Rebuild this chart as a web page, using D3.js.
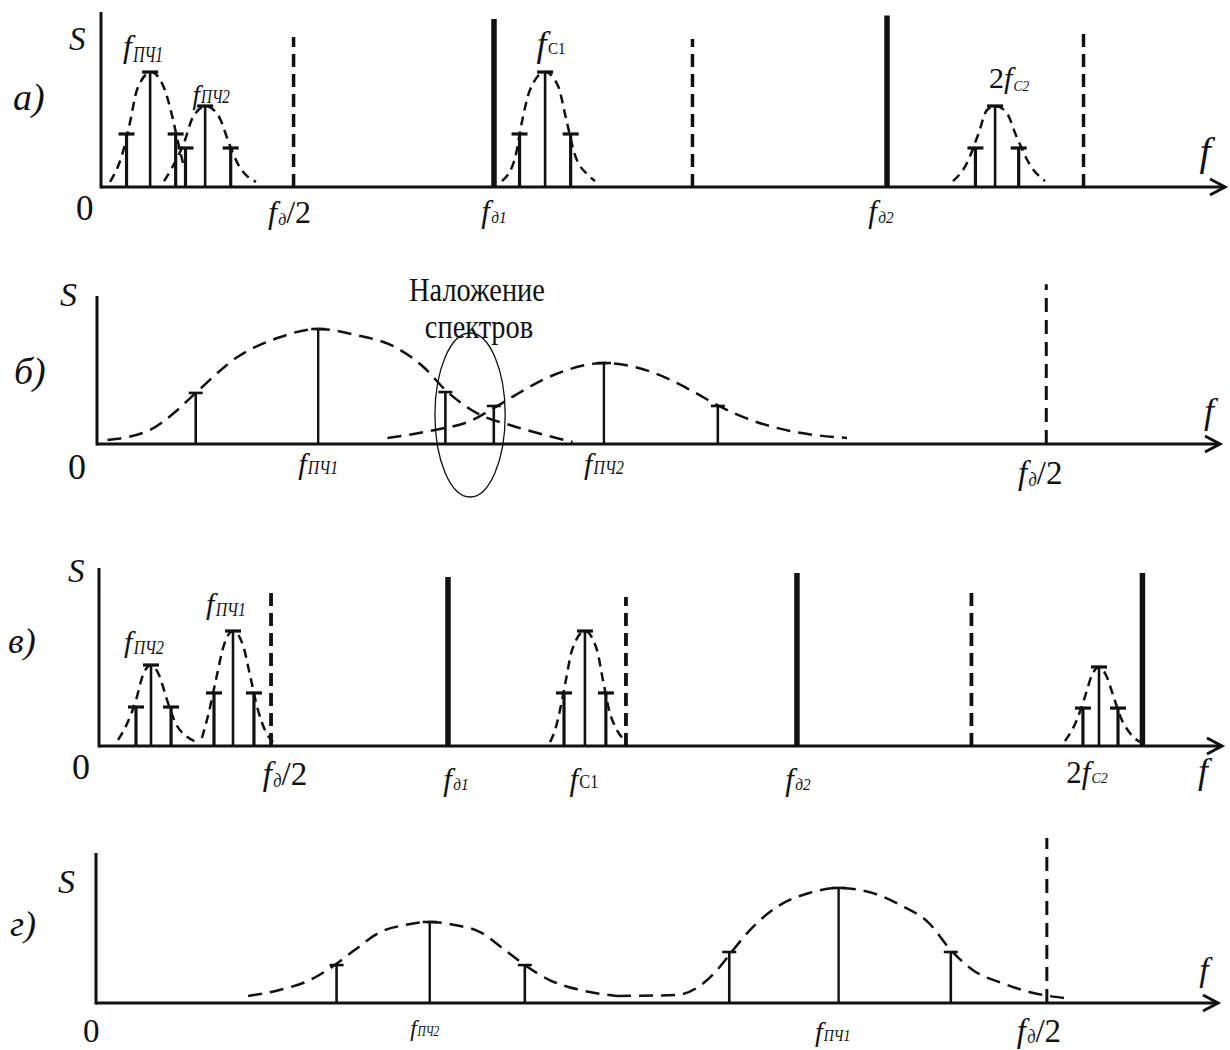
<!DOCTYPE html>
<html>
<head>
<meta charset="utf-8">
<script src="https://cdn.jsdelivr.net/npm/d3@7"></script>
<style>
  body { margin: 0; background: #fff; }
  svg { display: block; }
</style>
</head>
<body>
<svg id="chart" width="1230" height="1050"></svg>
<script>
// Frequencies are given in units of half the sampling frequency (f_д/2 = 1),
// amplitudes as a fraction of the height of the S axis.

const panelLetters = ["а)", "б)", "в)", "г)"];
// right end of each frequency axis (arrow tip), same units
const freqSpan = [5.72, 1.183, 6.436, 1.18];

// ---------- а) ----------
const aGroups = [
  { name: "ПЧ1", f: [0.13, 0.25, 0.38], s: [0.303, 0.657, 0.303] },
  { name: "ПЧ2", f: [0.43, 0.53, 0.66], s: [0.223, 0.463, 0.223] },
  { name: "C1",  f: [2.13, 2.26, 2.39], s: [0.303, 0.657, 0.303] },
  { name: "2C2", f: [4.45, 4.55, 4.67], s: [0.223, 0.463, 0.223] }
];
const aSampling = [[2.0, 0.96], [4.0, 0.98]];
const aHalf = [[0.98, 0.857], [3.01, 0.846], [5.0, 0.874]];
const aEnvelopes = [
  [[0.046,0.029],[0.107,0.183],[0.148,0.371],[0.183,0.554],[0.254,0.657],[0.321,0.566],[0.361,0.411],[0.392,0.257],[0.417,0.137]],
  [[0.321,0.034],[0.361,0.109],[0.422,0.251],[0.468,0.4],[0.534,0.463],[0.601,0.4],[0.651,0.251],[0.697,0.131],[0.789,0.029]],
  [[2.041,0.034],[2.107,0.166],[2.142,0.371],[2.183,0.554],[2.26,0.657],[2.326,0.577],[2.366,0.394],[2.412,0.183],[2.478,0.069],[2.514,0.034]],
  [[4.336,0.034],[4.407,0.137],[4.463,0.297],[4.509,0.44],[4.55,0.463],[4.606,0.429],[4.662,0.28],[4.728,0.126],[4.804,0.034]]
];
const aPeakLabels = [
  { f: 0.25, parts: [["f","f"],["ПЧ1","i"]] },
  { f: 0.53, parts: [["f","f"],["ПЧ2","i"]] },
  { f: 2.26, parts: [["f","f"],["C1","u"]] },
  { f: 4.55, parts: [["2","n"],["f","f"],["C2","i"]] }
];
const aTickLabels = [
  { f: 0.98, parts: [["f","f"],["д","i"],["/2","n"]] },
  { f: 2.0,  parts: [["f","f"],["д1","i"]] },
  { f: 4.0,  parts: [["f","f"],["д2","i"]] }
];

// ---------- б) ----------
const bGroups = [
  { name: "ПЧ1", f: [0.104, 0.233, 0.367], s: [0.345, 0.777, 0.351] },
  { name: "ПЧ2", f: [0.418, 0.534, 0.654], s: [0.257, 0.547, 0.257] }
];
const bSampling = [];
const bHalf = [[1.0, 1.08]];
const bEnvelopes = [
  [[0.011,0.027],[0.056,0.095],[0.081,0.209],[0.104,0.345],[0.148,0.588],[0.19,0.716],[0.233,0.777],[0.273,0.736],[0.314,0.655],[0.344,0.52],[0.367,0.365],[0.404,0.196],[0.435,0.128],[0.48,0.047],[0.501,0.014]],
  [[0.306,0.041],[0.356,0.095],[0.393,0.155],[0.418,0.243],[0.439,0.324],[0.481,0.466],[0.534,0.547],[0.587,0.48],[0.625,0.365],[0.655,0.257],[0.683,0.176],[0.73,0.088],[0.79,0.041]]
];
const bPeakLabels = [];
const bTickLabels = [
  { f: 0.233, parts: [["f","f"],["ПЧ1","i"]] },
  { f: 0.534, parts: [["f","f"],["ПЧ2","i"]] },
  { f: 1.0,   parts: [["f","f"],["д","i"],["/2","n"]] }
];
// region where the two spectra overlap
const bOverlap = { f: 0.393, s: 0.196, df: 0.037, ds: 0.554 };
const bOverlapText = ["Наложение", "спектров"];

// ---------- в) ----------
const cGroups = [
  { name: "ПЧ2", f: [0.212, 0.298, 0.413], s: [0.219, 0.455, 0.219] },
  { name: "ПЧ1", f: [0.659, 0.768, 0.888], s: [0.298, 0.646, 0.298] },
  { name: "C1",  f: [2.665, 2.785, 2.905], s: [0.298, 0.646, 0.298] },
  { name: "2C2", f: [5.639, 5.731, 5.84],  s: [0.213, 0.444, 0.213] }
];
const cSampling = [[2.0, 0.949], [4.0, 0.972], [5.98, 0.972]];
const cHalf = [[0.986, 0.86], [3.02, 0.837], [5.0, 0.86]];
const cEnvelopes = [
  [[0.109,0.034],[0.16,0.124],[0.212,0.258],[0.252,0.399],[0.298,0.455],[0.344,0.399],[0.39,0.258],[0.441,0.124],[0.499,0.056],[0.562,0.022]],
  [[0.59,0.045],[0.63,0.191],[0.67,0.371],[0.716,0.567],[0.768,0.646],[0.825,0.567],[0.865,0.399],[0.911,0.202],[0.951,0.09],[0.997,0.022]],
  [[2.585,0.022],[2.619,0.107],[2.642,0.202],[2.676,0.371],[2.711,0.539],[2.785,0.646],[2.854,0.539],[2.888,0.371],[2.928,0.185],[2.968,0.09],[3.026,0.022]],
  [[5.536,0.028],[5.599,0.135],[5.65,0.275],[5.691,0.399],[5.731,0.444],[5.771,0.399],[5.817,0.27],[5.857,0.157],[5.908,0.073],[5.966,0.022]]
];
const cPeakLabels = [
  { f: 0.298, parts: [["f","f"],["ПЧ2","i"]] },
  { f: 0.768, parts: [["f","f"],["ПЧ1","i"]] }
];
const cTickLabels = [
  { f: 0.986, parts: [["f","f"],["д","i"],["/2","n"]] },
  { f: 2.0,   parts: [["f","f"],["д1","i"]] },
  { f: 2.785, parts: [["f","f"],["C1","u"]] },
  { f: 4.0,   parts: [["f","f"],["д2","i"]] },
  { f: 5.731, parts: [["2","n"],["f","f"],["C2","i"]] }
];

// ---------- г) ----------
const dGroups = [
  { name: "ПЧ2", f: [0.253, 0.351, 0.451], s: [0.253, 0.54, 0.253] },
  { name: "ПЧ1", f: [0.666, 0.781, 0.899], s: [0.34, 0.767, 0.34] }
];
const dSampling = [];
const dHalf = [[1.0, 1.1]];
const dEnvelopes = [
  [[0.16,0.047],[0.193,0.087],[0.225,0.153],[0.251,0.253],[0.272,0.353],[0.299,0.473],[0.325,0.52],[0.351,0.54],[0.377,0.52],[0.404,0.473],[0.43,0.353],[0.451,0.253],[0.477,0.153],[0.509,0.087],[0.548,0.047]],
  [[0.548,0.047],[0.61,0.053],[0.639,0.133],[0.656,0.24],[0.67,0.353],[0.691,0.507],[0.716,0.64],[0.75,0.733],[0.781,0.767],[0.813,0.74],[0.846,0.653],[0.876,0.533],[0.899,0.353],[0.922,0.22],[0.953,0.133],[0.986,0.067],[1.018,0.033]]
];
const dPeakLabels = [];
const dTickLabels = [
  { f: 0.351, parts: [["f","f"],["ПЧ2","i"]] },
  { f: 0.781, parts: [["f","f"],["ПЧ1","i"]] },
  { f: 1.0,   parts: [["f","f"],["д","i"],["/2","n"]] }
];

// ---------- drawing ----------
const SERIF = "'Liberation Serif', 'Times New Roman', 'DejaVu Serif', serif";
const INK = "#111";
const svg = d3.select("#chart");
svg.append("rect").attr("width", 1230).attr("height", 1050).attr("fill", "#fff");

// label placement: dx nudge from the labelled frequency, baseline, font size,
// subscript size ratio / horizontal squeeze / drop
const panels = [
  {
    data: { groups: aGroups, sampling: aSampling, half: aHalf, env: aEnvelopes, peaks: aPeakLabels, ticks: aTickLabels },
    x0: 101, xTip: 1225, base: 187, top: 12,
    letter: { x: 13, y: 110, size: 38 }, S: { x: 69, y: 50, size: 33 }, zero: { x: 76, y: 220, size: 35 },
    axisF: { x: 1205, y: 165, size: 40 },
    peakPos: [
      { dx: -7, y: 57, size: 32, sub: 0.72, sx: 0.68, drop: 5 },
      { dx: 6, y: 104, size: 27, sub: 0.66, sx: 0.85, drop: -1 },
      { dx: 6, y: 56, size: 36, sub: 0.44, sx: 0.95, drop: -2 },
      { dx: 14, y: 88, size: 30, sub: 0.5, sx: 0.9, drop: 3 }
    ],
    tickPos: [
      { dx: -4, y: 223, size: 32, sub: 0.55, sx: 0.9, drop: 2 },
      { dx: 0, y: 222, size: 31, sub: 0.55, sx: 0.9, drop: 1 },
      { dx: -6, y: 222, size: 31, sub: 0.55, sx: 0.9, drop: 1 }
    ],
    envDash: "9,6", envW: 2.5, capW: 16, capSW: 3.2, stemW: 2.6, sideW: 3.2,
    halfDash: "13,7", halfW: 3.5, sampleW: 5.5
  },
  {
    data: { groups: bGroups, sampling: bSampling, half: bHalf, env: bEnvelopes, peaks: bPeakLabels, ticks: bTickLabels },
    x0: 97, xTip: 1220, base: 444, top: 296,
    letter: { x: 14, y: 384, size: 38 }, S: { x: 60, y: 306, size: 34 }, zero: { x: 68, y: 479, size: 36 },
    axisF: { x: 1209, y: 423, size: 36 },
    peakPos: [],
    tickPos: [
      { dx: 0, y: 474, size: 30, sub: 0.62, sx: 0.85, drop: 0 },
      { dx: 0, y: 474, size: 30, sub: 0.62, sx: 0.85, drop: 0 },
      { dx: -6, y: 484, size: 33, sub: 0.55, sx: 0.9, drop: 2 }
    ],
    envDash: "14,8", envW: 2.5, capW: 14, capSW: 2.6, stemW: 2.4, sideW: 2.6,
    halfDash: "14,8", halfW: 3, sampleW: 5
  },
  {
    data: { groups: cGroups, sampling: cSampling, half: cHalf, env: cEnvelopes, peaks: cPeakLabels, ticks: cTickLabels },
    x0: 99, xTip: 1222, base: 746, top: 568,
    letter: { x: 8, y: 653, size: 36 }, S: { x: 68, y: 582, size: 33 }, zero: { x: 72, y: 779, size: 36 },
    axisF: { x: 1203, y: 783, size: 36 },
    peakPos: [
      { dx: -7, y: 652, size: 30, sub: 0.66, sx: 0.8, drop: 2 },
      { dx: -7, y: 614, size: 30, sub: 0.66, sx: 0.8, drop: 2 }
    ],
    tickPos: [
      { dx: 14, y: 785, size: 33, sub: 0.55, sx: 0.9, drop: 2 },
      { dx: 8, y: 790, size: 31, sub: 0.55, sx: 0.9, drop: 0 },
      { dx: -1, y: 790, size: 31, sub: 0.62, sx: 0.85, drop: -2 },
      { dx: 1, y: 790, size: 31, sub: 0.55, sx: 0.9, drop: 0 },
      { dx: -12, y: 783, size: 31, sub: 0.5, sx: 0.9, drop: 0 }
    ],
    envDash: "9,6", envW: 2.5, capW: 16, capSW: 3.2, stemW: 2.6, sideW: 3.2,
    halfDash: "13,7", halfW: 3.8, sampleW: 5.5
  },
  {
    data: { groups: dGroups, sampling: dSampling, half: dHalf, env: dEnvelopes, peaks: dPeakLabels, ticks: dTickLabels },
    x0: 96, xTip: 1218, base: 1003, top: 853,
    letter: { x: 10, y: 936, size: 36 }, S: { x: 58, y: 893, size: 34 }, zero: { x: 83, y: 1042, size: 33 },
    axisF: { x: 1204, y: 981, size: 34 },
    peakPos: [],
    tickPos: [
      { dx: -5, y: 1036, size: 23, sub: 0.62, sx: 0.8, drop: 0 },
      { dx: -6, y: 1041, size: 28, sub: 0.62, sx: 0.8, drop: 0 },
      { dx: -8, y: 1042, size: 33, sub: 0.55, sx: 0.9, drop: 1 }
    ],
    envDash: "14,8", envW: 2.5, capW: 14, capSW: 2.6, stemW: 2.4, sideW: 2.6,
    halfDash: "14,8", halfW: 3, sampleW: 5
  }
];

// Label built from pieces: italic "f", squeezed subscripts, upright parts.
// Pieces are laid out left to right, then the whole label is centred on cx.
function richText(g, cx, y, parts, pos) {
  const lg = g.append("g");
  let cursor = 0;
  parts.forEach(([txt, kind]) => {
    const sub = kind === "i" || kind === "u";
    const size = sub ? pos.size * pos.sub : pos.size;
    const sx = sub ? pos.sx : 1;
    const dy = sub ? pos.drop : 0;
    const t = lg.append("text")
      .attr("transform", `translate(${cursor},${y + dy}) scale(${sx},1)`)
      .attr("font-family", SERIF)
      .attr("font-style", (kind === "f" || kind === "i") ? "italic" : "normal")
      .attr("font-size", size)
      .attr("fill", INK)
      .text(txt);
    let w = t.node().getComputedTextLength() * sx;
    if (kind === "f") w += pos.size * 0.04;
    cursor += w;
  });
  lg.attr("transform", `translate(${cx - cursor / 2},0)`);
}

panels.forEach((p, pi) => {
  const g = svg.append("g").attr("class", "panel-" + pi);
  const x = d3.scaleLinear().domain([0, freqSpan[pi]]).range([p.x0, p.xTip]);
  const y = d3.scaleLinear().domain([0, 1]).range([p.base, p.top]);
  const D = p.data;

  // dashed envelopes of each spectrum
  const env = d3.line().x(d => x(d[0])).y(d => y(d[1])).curve(d3.curveMonotoneX);
  g.selectAll("path.env").data(D.env).join("path")
    .attr("class", "env")
    .attr("d", env)
    .attr("fill", "none").attr("stroke", INK)
    .attr("stroke-width", p.envW).attr("stroke-dasharray", p.envDash);

  // f_д/2 multiples (dashed verticals)
  g.selectAll("line.half").data(D.half).join("line")
    .attr("class", "half")
    .attr("x1", d => x(d[0])).attr("x2", d => x(d[0]))
    .attr("y1", y(0)).attr("y2", d => y(d[1]))
    .attr("stroke", INK).attr("stroke-width", p.halfW)
    .attr("stroke-dasharray", p.halfDash);

  // sampling frequency lines
  g.selectAll("line.samp").data(D.sampling).join("line")
    .attr("class", "samp")
    .attr("x1", d => x(d[0])).attr("x2", d => x(d[0]))
    .attr("y1", y(0)).attr("y2", d => y(d[1]))
    .attr("stroke", INK).attr("stroke-width", p.sampleW);

  // spectral components: stems with caps
  const comps = [];
  D.groups.forEach(gr => gr.f.forEach((f, i) => comps.push({ f, s: gr.s[i], center: i === 1 })));
  g.selectAll("line.stem").data(comps).join("line")
    .attr("class", "stem")
    .attr("x1", d => x(d.f)).attr("x2", d => x(d.f))
    .attr("y1", y(0)).attr("y2", d => y(d.s))
    .attr("stroke", INK).attr("stroke-width", d => d.center ? p.stemW : p.sideW);
  g.selectAll("line.cap").data(comps).join("line")
    .attr("class", "cap")
    .attr("x1", d => x(d.f) - p.capW / 2).attr("x2", d => x(d.f) + p.capW / 2)
    .attr("y1", d => y(d.s)).attr("y2", d => y(d.s))
    .attr("stroke", INK).attr("stroke-width", p.capSW);

  // axes
  g.append("line").attr("x1", p.x0).attr("x2", p.x0).attr("y1", y(0) + 1.5).attr("y2", y(1))
    .attr("stroke", INK).attr("stroke-width", 3);
  g.append("line").attr("x1", p.x0).attr("x2", x(freqSpan[pi])).attr("y1", y(0)).attr("y2", y(0))
    .attr("stroke", INK).attr("stroke-width", 3);
  const tip = x(freqSpan[pi]);
  g.append("polyline")
    .attr("points", [[tip - 15, y(0) - 8], [tip, y(0)], [tip - 15, y(0) + 8]].map(d => d.join(",")).join(" "))
    .attr("fill", "none").attr("stroke", INK).attr("stroke-width", 3)
    .attr("stroke-linejoin", "miter");

  // axis captions
  g.append("text").attr("x", p.letter.x).attr("y", p.letter.y)
    .attr("font-family", SERIF).attr("font-style", "italic").attr("font-size", p.letter.size)
    .attr("fill", INK).text(panelLetters[pi]);
  g.append("text").attr("x", p.S.x).attr("y", p.S.y)
    .attr("font-family", SERIF).attr("font-style", "italic").attr("font-size", p.S.size)
    .attr("fill", INK).text("S");
  g.append("text").attr("x", p.zero.x).attr("y", p.zero.y)
    .attr("font-family", SERIF).attr("font-size", p.zero.size)
    .attr("fill", INK).text("0");
  g.append("text").attr("x", p.axisF.x).attr("y", p.axisF.y).attr("text-anchor", "middle")
    .attr("font-family", SERIF).attr("font-style", "italic").attr("font-size", p.axisF.size)
    .attr("fill", INK).text("f");

  // component labels above the peaks and frequency labels under the axis
  D.peaks.forEach((lab, i) => richText(g, x(lab.f) + p.peakPos[i].dx, p.peakPos[i].y, lab.parts, p.peakPos[i]));
  D.ticks.forEach((lab, i) => richText(g, x(lab.f) + p.tickPos[i].dx, p.tickPos[i].y, lab.parts, p.tickPos[i]));

  // overlap annotation in б): ellipse and a two-line caption
  if (pi === 1) {
    g.append("ellipse")
      .attr("cx", x(bOverlap.f)).attr("cy", y(bOverlap.s))
      .attr("rx", x(bOverlap.df) - x(0)).attr("ry", y(0) - y(bOverlap.ds))
      .attr("fill", "none").attr("stroke", INK).attr("stroke-width", 1.3);
    [[477, 301], [479, 338]].forEach(([cx, by], k) => {
      g.append("text")
        .attr("transform", `translate(${cx},${by}) scale(0.86,1)`)
        .attr("text-anchor", "middle")
        .attr("font-family", SERIF).attr("font-size", 33).attr("fill", INK)
        .text(bOverlapText[k]);
    });
  }
});
</script>
</body>
</html>
